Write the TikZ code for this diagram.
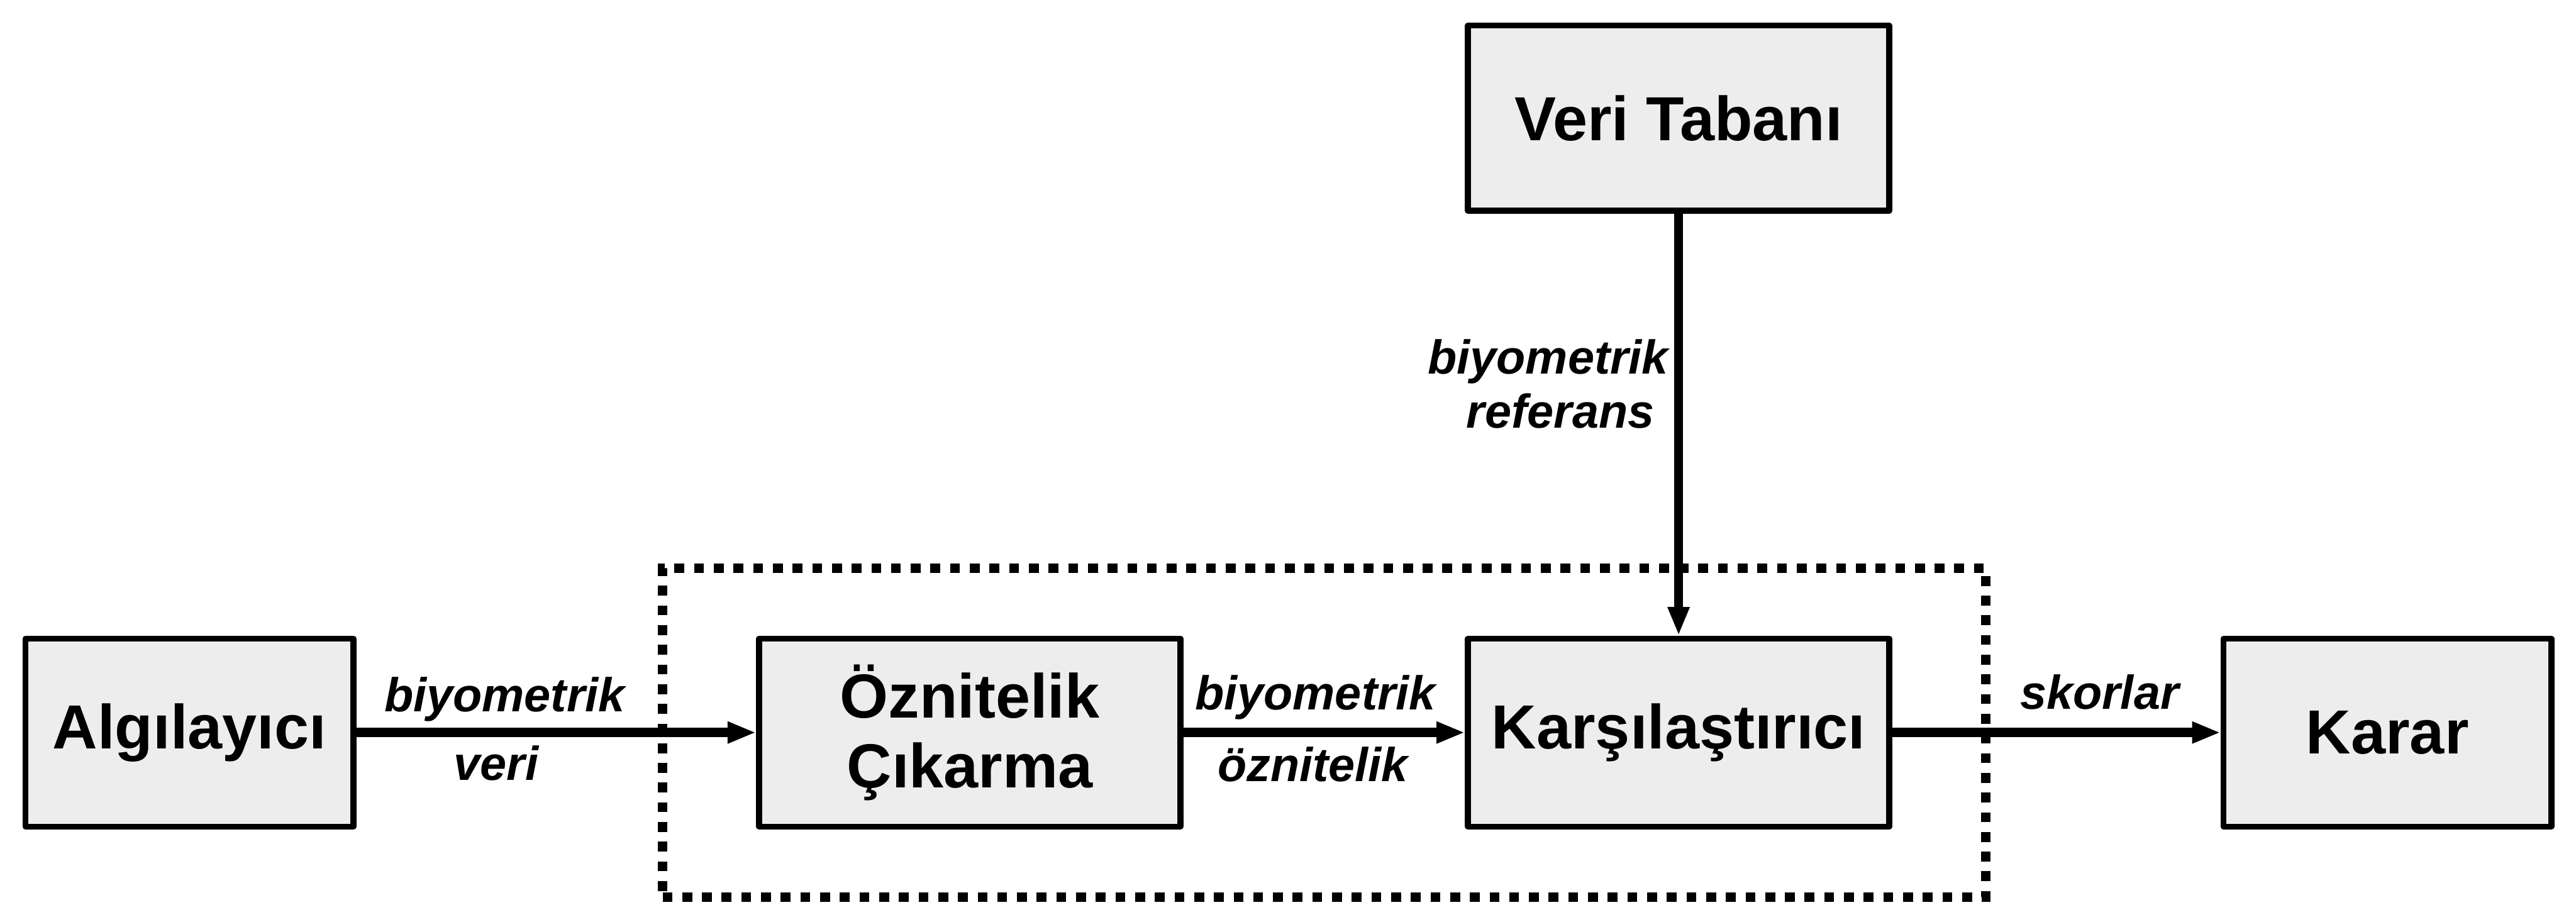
\documentclass[tikz,border=0pt]{standalone}
\usepackage{fontspec}
\setmainfont{Liberation Sans}
\usetikzlibrary{positioning}
\usetikzlibrary{fit}
\usetikzlibrary{arrows.meta}
\definecolor{boxgray}{RGB}{237,237,237}

\begin{document}
\begin{tikzpicture}[
  block/.style={draw, rectangle, fill=boxgray, line width=0.12cm, line join=round, minimum height=3.82cm, font=\bfseries\fontsize{36}{40.4}\selectfont, align=center},
  wide/.style={minimum width=8.56cm},
  narrow/.style={minimum width=6.66cm},
  flow/.style={-{Triangle[length=0.58cm,width=0.41cm]}, line width=0.19cm},
  tag/.style={font=\bfseries\itshape\fontsize{27.5}{31}\selectfont, inner sep=0pt, align=center}
]
  \useasboundingbox (0,0) rectangle (52.33,-18.72);

  \node[block, narrow] (sensor) at (3.85,-14.88) {Algılayıcı};
  \node[block, wide, right=8.12cm of sensor] (feat) {Öznitelik\\Çıkarma};
  \node[block, wide, right=5.72cm of feat] (match) {Karşılaştırıcı};
  \node[block, narrow, right=6.67cm of match] (dec) {Karar};
  \node[block, wide, minimum height=3.76cm, above=8.57cm of match] (db) {Veri Tabanı};

  \node[draw, line width=0.19cm, dash pattern=on 0.2cm off 0.2cm, inner xsep=1.9cm, inner ysep=1.37cm, fit=(feat) (match)] (core) {};

  \path[flow] (sensor) edge (feat);
  \path[flow] (feat) edge (match);
  \path[flow] (match) edge (dec);
  \path[flow, line width=0.17cm] (db) edge (match);

  \node[tag, anchor=base] (bio_in) at ([xshift=3.01cm,yshift=0.43cm]sensor.east) {biyometrik};
  \node[tag, anchor=base] (veri_in) at ([xshift=2.84cm,yshift=-0.97cm]sensor.east) {veri};
  \node[tag, anchor=base] (bio_feat) at ([xshift=2.68cm,yshift=0.46cm]feat.east) {biyometrik};
  \node[tag, anchor=base] (ozn_feat) at ([xshift=2.63cm,yshift=-1.00cm]feat.east) {öznitelik};
  \node[tag, anchor=base] (skor) at ([xshift=4.21cm,yshift=0.47cm]match.east) {skorlar};
  \node[tag, anchor=east] (bio_ref) at ([xshift=-0.2cm,yshift=-3.46cm]db.south) {biyometrik\\\hspace*{0.5cm}referans};
\end{tikzpicture}
\end{document}
